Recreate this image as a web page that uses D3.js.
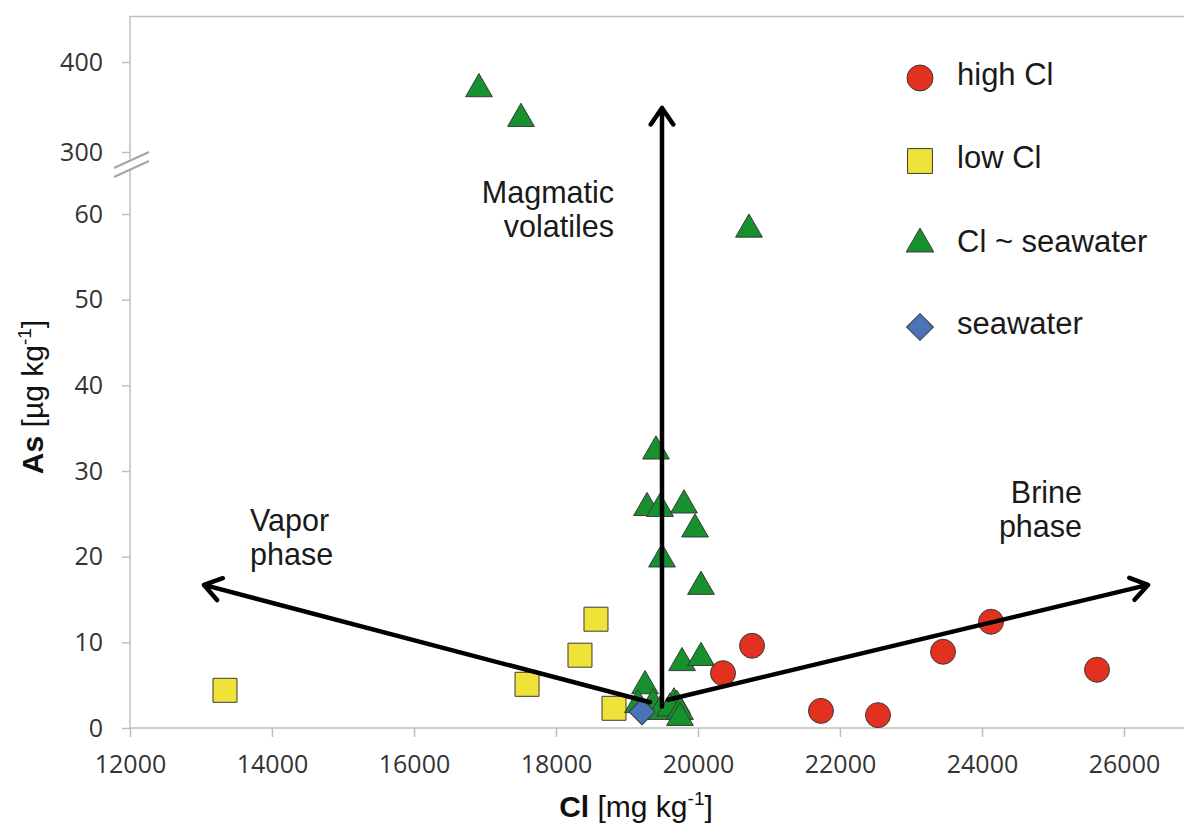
<!DOCTYPE html>
<html>
<head>
<meta charset="utf-8">
<script src="https://cdn.jsdelivr.net/npm/d3@7"></script>
<style>
  body { margin: 0; background: #fff; }
  svg { display: block; }
</style>
</head>
<body>
<svg id="svg"></svg>
<script>
// data: [Cl mg/kg, As µg/kg]
const highCl = [[20352, 6.4], [20761, 9.6], [21732, 2.0], [22535, 1.5], [23451, 8.9], [24127, 12.4], [25620, 6.8]]
const lowCl = [[13338, 4.4], [17592, 5.1], [18338, 8.5], [18563, 12.7], [18817, 2.3]]
const clSeawater = [
  [16915, 370], [17507, 337], [20718, 58.2],
  [19408, 32.3], [19282, 25.7], [19465, 25.6], [19803, 26.0], [19958, 23.2],
  [19493, 19.7], [20042, 16.5], [19775, 7.6], [20042, 8.2],
  [19254, 4.9], [19155, 2.7], [19366, 2.8], [19465, 1.9],
  [19662, 2.9], [19704, 2.6], [19606, 2.3], [19746, 1.9], [19746, 1.2]
]
const seawater = [[19211, 1.9]]

const xTicks = [12000, 14000, 16000, 18000, 20000, 22000, 24000, 26000]
const yTicks = [0, 10, 20, 30, 40, 50, 60, 300, 400]

// annotation arrows in data units: [from, to]
const arrows = [
  [[19493, 2.5], [19493, 349]],
  [[19324, 3.0], [13042, 16.7]],
  [[19577, 3.3], [26338, 16.7]]
]
const labels = [
  { lines: ['Magmatic', 'volatiles'], x: 614, y: 203, anchor: 'end' },
  { lines: ['Vapor', 'phase'], x: 250, y: 531, anchor: 'start' },
  { lines: ['Brine', 'phase'], x: 1082, y: 503, anchor: 'end' }
]
const legendItems = [
  { name: 'high Cl', symbol: 'circle', fill: '#e3311f' },
  { name: 'low Cl', symbol: 'square', fill: '#efe33a' },
  { name: 'Cl ~ seawater', symbol: 'triangle', fill: '#17902e' },
  { name: 'seawater', symbol: 'diamond', fill: '#4b73ba' }
]

const W = 1184, H = 823
const svg = d3.select('#svg').attr('width', W).attr('height', H)
svg.append('rect').attr('width', W).attr('height', H).attr('fill', '#fff')

const x = d3.scaleLinear().domain([12000, 28000]).range([130, 1266])
// broken axis: 0-60 then 300-450
const y = d3.scaleLinear().domain([0, 60, 300, 450]).range([728, 214, 152, 17])

const axisColor = '#bfbfbf'
const font = 'Liberation Sans, Arial, sans-serif'
const tickFont = 'Open Sans, sans-serif'

// plot frame (top border)
svg.append('line')
  .attr('x1', 130).attr('x2', W).attr('y1', 16.5).attr('y2', 16.5)
  .attr('stroke', axisColor).attr('stroke-width', 1.5)

// x axis
const gx = svg.append('g').attr('transform', 'translate(0,728)')
  .call(d3.axisBottom(x).tickValues(xTicks).tickFormat(d3.format('d')).tickSize(9).tickPadding(18))
gx.select('.domain').remove()
gx.append('line').attr('x1', 130).attr('x2', W).attr('stroke', axisColor).attr('stroke-width', 1.5)
gx.selectAll('.tick line').attr('stroke', axisColor).attr('stroke-width', 1.5)
gx.selectAll('.tick text')
  .attr('font-family', tickFont).attr('font-size', 25).attr('fill', '#333')

// y axis
const gy = svg.append('g').attr('transform', 'translate(130,0)')
  .call(d3.axisLeft(y).tickValues(yTicks).tickFormat(d3.format('d')).tickSize(8).tickPadding(19))
gy.select('.domain').remove()
gy.append('line').attr('y1', 16).attr('y2', 159).attr('stroke', axisColor).attr('stroke-width', 1.5)
gy.append('line').attr('y1', 170).attr('y2', 728).attr('stroke', axisColor).attr('stroke-width', 1.5)
gy.selectAll('.tick line').attr('stroke', axisColor).attr('stroke-width', 1.5)
gy.selectAll('.tick text')
  .attr('font-family', tickFont).attr('font-size', 25).attr('fill', '#333')

// break marks
svg.append('path')
  .attr('d', 'M114,168L149,152L149,161L114,177Z')
  .attr('fill', '#fff')
svg.append('path')
  .attr('d', 'M114,168L149,152M114,177L149,161')
  .attr('stroke', '#a6a6a6').attr('stroke-width', 2).attr('fill', 'none')

// axis titles
const yTitle = svg.append('text')
  .attr('transform', 'translate(43,397) rotate(-90)')
  .attr('text-anchor', 'middle')
  .attr('font-family', font).attr('font-size', 30).attr('fill', '#111')
yTitle.append('tspan').attr('font-weight', 'bold').text('As')
yTitle.append('tspan').text(' [µg kg')
yTitle.append('tspan').attr('font-size', 19).attr('dy', -12).text('-1')
yTitle.append('tspan').attr('dy', 12).text(']')

const xTitle = svg.append('text')
  .attr('x', 636).attr('y', 817)
  .attr('text-anchor', 'middle')
  .attr('font-family', font).attr('font-size', 30).attr('fill', '#111')
xTitle.append('tspan').attr('font-weight', 'bold').text('Cl')
xTitle.append('tspan').text(' [mg kg')
xTitle.append('tspan').attr('font-size', 19).attr('dy', -12).text('-1')
xTitle.append('tspan').attr('dy', 12).text(']')

// markers
const shapes = {
  circle: d3.symbol(d3.symbolCircle, 490),
  square: d3.symbol(d3.symbolSquare, 576),
  triangle: d3.symbol(d3.symbolTriangle, 310),
  diamond: d3.symbol(d3.symbolSquare, 340)
}
const rot = s => (s === 'diamond' ? ' rotate(45)' : '')

let drawSeries = (data, item) => {
  svg.append('g').selectAll('path')
    .data(data)
    .join('path')
    .attr('d', shapes[item.symbol]())
    .attr('transform', d => `translate(${x(d[0])},${y(d[1])})` + rot(item.symbol))
    .attr('fill', item.fill)
    .attr('stroke', '#3a3a3a')
    .attr('stroke-width', 1)
}
drawSeries(lowCl, legendItems[1])
drawSeries(highCl, legendItems[0])
drawSeries(clSeawater, legendItems[2])
drawSeries(seawater, legendItems[3])

// arrows
let drawArrow = (a) => {
  const x1 = x(a[0][0]), y1 = y(a[0][1]), x2 = x(a[1][0]), y2 = y(a[1][1])
  const ang = Math.atan2(y2 - y1, x2 - x1)
  const len = 20, spread = 0.6
  const p = d3.path()
  p.moveTo(x1, y1); p.lineTo(x2, y2)
  p.moveTo(x2 - len * Math.cos(ang - spread), y2 - len * Math.sin(ang - spread))
  p.lineTo(x2, y2)
  p.lineTo(x2 - len * Math.cos(ang + spread), y2 - len * Math.sin(ang + spread))
  svg.append('path').attr('d', p.toString())
    .attr('fill', 'none').attr('stroke', '#000').attr('stroke-width', 4.5)
    .attr('stroke-linecap', 'round').attr('stroke-linejoin', 'round')
}
arrows.forEach(drawArrow)

// annotation text
labels.forEach(l => {
  l.lines.forEach((t, i) => {
    svg.append('text').text(t)
      .attr('x', l.x).attr('y', l.y + i * 34)
      .attr('text-anchor', l.anchor)
      .attr('font-family', font).attr('font-size', 30.5).attr('fill', '#1a1a1a')
  })
})

// legend
const legend = svg.append('g').attr('transform', 'translate(920,78)')
legendItems.forEach((item, i) => {
  const g = legend.append('g').attr('transform', `translate(0,${i * 83})`)
  const size = { circle: 530, square: 620, triangle: 330, diamond: 360 }[item.symbol]
  const sym = item.symbol === 'diamond' ? d3.symbolSquare : { circle: d3.symbolCircle, square: d3.symbolSquare, triangle: d3.symbolTriangle }[item.symbol]
  g.append('path')
    .attr('d', d3.symbol(sym, size)())
    .attr('transform', rot(item.symbol))
    .attr('fill', item.fill).attr('stroke', '#3a3a3a').attr('stroke-width', 1)
  g.append('text').text(item.name)
    .attr('x', 37).attr('y', 7 + (i === 2 ? 1 : 0))
    .attr('font-family', font).attr('font-size', 31).attr('fill', '#1a1a1a')
})
</script>
</body>
</html>
